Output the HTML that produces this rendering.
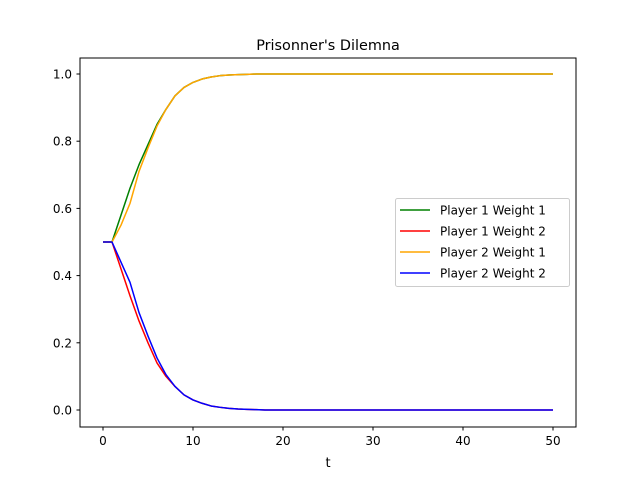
<!DOCTYPE html>
<html><head><meta charset="utf-8"><style>
body{margin:0;background:#fff;}
text{font-family:"DejaVu Sans","Liberation Sans",sans-serif;}
</style></head><body>
<svg id="chart" width="640" height="480" xmlns="http://www.w3.org/2000/svg">
<rect x="0" y="0" width="640" height="480" fill="#fff"/>
<text x="328" y="50" font-size="14.4" text-anchor="middle">Prisonner's Dilemna</text>
<g id="axes"></g>
<g id="lines"></g>
<rect x="80" y="58" width="496" height="369" fill="none" stroke="#000" stroke-width="1"/>
<g id="legend"></g>
</svg>
<script>
const tail = n => Array(n).fill(null);
const p1w1 = [0.5,0.5,0.58,0.66,0.73,0.79,0.85,0.895,0.935,0.96,0.975,0.985,0.991,0.995,0.997,0.998,0.999,1,1,1,1,1,1,1,1,1,1,1,1,1,1,1,1,1,1,1,1,1,1,1,1,1,1,1,1,1,1,1,1,1,1];
const p1w2 = [0.5,0.5,0.42,0.34,0.265,0.2,0.14,0.1,0.07,0.045,0.03,0.02,0.012,0.008,0.005,0.003,0.002,0.001,0,0,0,0,0,0,0,0,0,0,0,0,0,0,0,0,0,0,0,0,0,0,0,0,0,0,0,0,0,0,0,0,0];
const p2w1 = [0.5,0.5,0.55,0.615,0.71,0.78,0.845,0.895,0.935,0.96,0.975,0.985,0.991,0.995,0.997,0.998,0.999,1,1,1,1,1,1,1,1,1,1,1,1,1,1,1,1,1,1,1,1,1,1,1,1,1,1,1,1,1,1,1,1,1,1];
const p2w2 = [0.5,0.5,0.44,0.38,0.29,0.22,0.155,0.105,0.07,0.045,0.03,0.02,0.012,0.008,0.005,0.003,0.002,0.001,0,0,0,0,0,0,0,0,0,0,0,0,0,0,0,0,0,0,0,0,0,0,0,0,0,0,0,0,0,0,0,0,0];
const seriesNames = ["Player 1 Weight 1","Player 1 Weight 2","Player 2 Weight 1","Player 2 Weight 2"];
const seriesColors = ["green","red","orange","blue"];
const xTicks = [0,10,20,30,40,50];
const yTicks = [0.0,0.2,0.4,0.6,0.8,1.0];
const NS="http://www.w3.org/2000/svg";
const xs = t => 103 + t*9;
const ys = v => 410 - v*336;
function mk(tag, attrs, parent){const e=document.createElementNS(NS,tag);for(const k in attrs)e.setAttribute(k,attrs[k]);parent.appendChild(e);return e;}
const axes=document.getElementById('axes');
xTicks.forEach(t=>{
  const l=mk('line',{x1:xs(t),x2:xs(t),y1:427,y2:430.5,stroke:'#000'},axes);
  
  
  const tx=mk('text',{x:xs(t),y:445,'font-size':12,'text-anchor':'middle'},axes);tx.textContent=t;
  
  
});
yTicks.forEach(v=>{
  const l=mk('line',{x1:76.5,x2:80,y1:ys(v),y2:ys(v),stroke:'#000'},axes);
  
  
  const tx=mk('text',{x:72,y:ys(v)+4.5,'font-size':12,'text-anchor':'end'},axes);tx.textContent=v.toFixed(1);
  
  
});
const xl=mk('text',{x:328,y:467,'font-size':13,'text-anchor':'middle'},axes);xl.textContent='t';


const lines=document.getElementById('lines');
[p1w1,p1w2,p2w1,p2w2].forEach((s,i)=>{
  const d=s.map((v,t)=>(t?'L':'M')+xs(t)+','+ys(v)).join(' ');
  const p=mk('path',{d:d,fill:'none',stroke:seriesColors[i],'stroke-width':1.5,'stroke-linejoin':'round'},lines);
  
  
});
const lg=document.getElementById('legend');
const box=mk('rect',{x:395.5,y:198.5,width:174,height:88,rx:2,fill:'#fff','fill-opacity':0.8,stroke:'#ccc'},lg);


seriesNames.forEach((n,i)=>{
  const y=210+i*21;
  const l=mk('line',{x1:400,x2:430,y1:y,y2:y,stroke:seriesColors[i],'stroke-width':1.5},lg);
  
  
  const t=mk('text',{x:440,y:y+4.5,'font-size':12},lg);t.textContent=n;
  
  
});
</script>
</body></html>
